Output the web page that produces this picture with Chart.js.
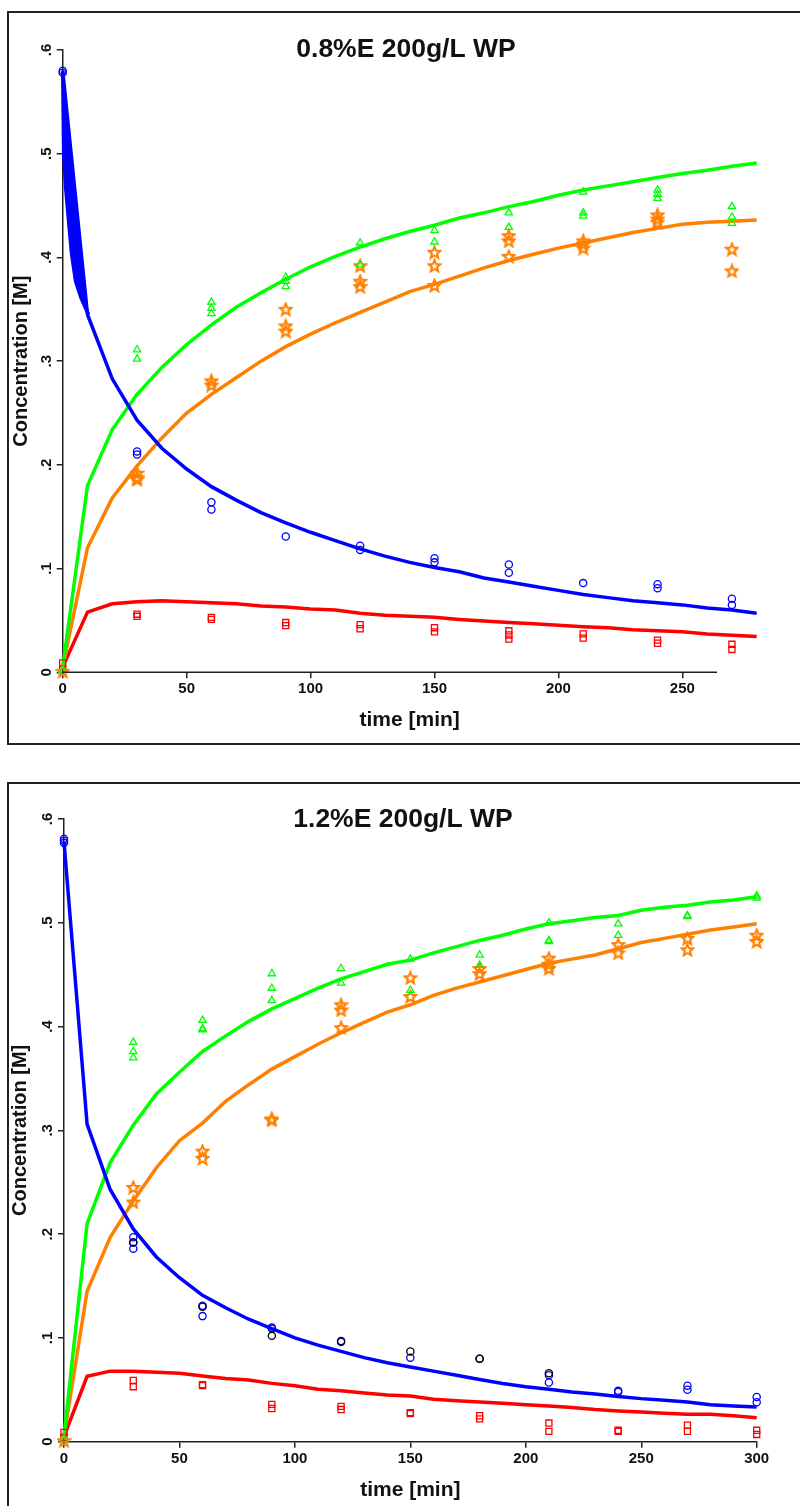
<!DOCTYPE html>
<html>
<head>
<meta charset="utf-8">
<script src="https://cdn.jsdelivr.net/npm/chart.js@4.4.0/dist/chart.umd.min.js"></script>
<style>
  body { margin: 0; background: #fff; width: 800px; height: 1506px; overflow: hidden; position: relative; }
  .frame { position: absolute; left: 7px; width: 900px; border: 2px solid #222; }
  #frame1 { top: 11px; height: 730px; }
  #frame2 { top: 782px; height: 800px; }
  canvas { position: absolute; left: 0; }
  #chart1 { top: 0; }
  #chart2 { top: 760px; }
</style>
</head>
<body>
<div class="frame" id="frame1"></div>
<div class="frame" id="frame2"></div>
<canvas id="chart1" width="800" height="760"></canvas>
<canvas id="chart2" width="800" height="746"></canvas>
<script>
// ---- data ----
const yTicks = [0, 0.1, 0.2, 0.3, 0.4, 0.5, 0.6];
const yTickLabels = ["0", ".1", ".2", ".3", ".4", ".5", ".6"];
const xTicksTop = [0, 50, 100, 150, 200, 250];
const xTicksBottom = [0, 50, 100, 150, 200, 250, 300];

// 0.8%E 200g/L WP  - model curves
const topFitT = [0, 10, 20, 30, 40, 50, 60, 70, 80, 90, 100, 110, 120, 130, 140, 150, 160, 170, 180, 190, 200, 210, 220, 230, 240, 250, 260, 270, 280];
const topBlueFit = [0.58, 0.345, 0.283, 0.243, 0.216, 0.196, 0.179, 0.166, 0.154, 0.144, 0.135, 0.127, 0.119, 0.112, 0.106, 0.101, 0.097, 0.091, 0.087, 0.083, 0.079, 0.075, 0.072, 0.069, 0.067, 0.065, 0.062, 0.060, 0.057];
const topGreenFit = [0.005, 0.18, 0.234, 0.268, 0.294, 0.316, 0.335, 0.352, 0.366, 0.379, 0.391, 0.401, 0.41, 0.418, 0.425, 0.431, 0.438, 0.443, 0.449, 0.454, 0.46, 0.465, 0.469, 0.473, 0.477, 0.481, 0.484, 0.488, 0.491];
const topOrangeFit = [0.005, 0.12, 0.168, 0.199, 0.226, 0.25, 0.268, 0.284, 0.30, 0.314, 0.326, 0.337, 0.347, 0.357, 0.367, 0.374, 0.382, 0.39, 0.397, 0.403, 0.409, 0.414, 0.419, 0.424, 0.428, 0.432, 0.434, 0.435, 0.436];
const topRedFit = [0.005, 0.058, 0.066, 0.068, 0.069, 0.068, 0.067, 0.066, 0.064, 0.063, 0.061, 0.06, 0.057, 0.055, 0.054, 0.053, 0.051, 0.0495, 0.048, 0.0467, 0.0453, 0.044, 0.043, 0.041, 0.040, 0.039, 0.037, 0.0357, 0.0344];
// blue band in the first 10 minutes
const topBandT = [0, 0.4, 1.2, 2.6, 3.6, 5.2, 7.4, 9.4, 10.5];
const topBandC = [0.58, 0.5, 0.467, 0.429, 0.403, 0.377, 0.361, 0.35, 0.345];

// 0.8%E 200g/L WP  - measurements
const topBlueT = [0, 0, 30, 30, 60, 60, 90, 120, 120, 150, 150, 180, 180, 210, 240, 240, 270, 270];
const topBlueC = [0.580, 0.578, 0.213, 0.210, 0.164, 0.157, 0.131, 0.122, 0.118, 0.110, 0.106, 0.104, 0.096, 0.086, 0.085, 0.081, 0.071, 0.065];
const topGreenT = [0, 30, 30, 60, 60, 60, 90, 90, 90, 120, 120, 150, 150, 180, 180, 210, 210, 210, 240, 240, 240, 270, 270, 270];
const topGreenC = [0.002, 0.311, 0.302, 0.357, 0.351, 0.346, 0.381, 0.377, 0.372, 0.414, 0.393, 0.426, 0.415, 0.443, 0.429, 0.463, 0.443, 0.440, 0.465, 0.461, 0.457, 0.449, 0.439, 0.433];
const topOrangeT = [0, 30, 30, 30, 60, 60, 90, 90, 90, 120, 120, 120, 150, 150, 150, 180, 180, 180, 210, 210, 210, 240, 240, 240, 270, 270];
const topOrangeC = [0.001, 0.192, 0.188, 0.186, 0.281, 0.277, 0.350, 0.334, 0.329, 0.392, 0.377, 0.372, 0.405, 0.392, 0.373, 0.421, 0.416, 0.401, 0.416, 0.413, 0.409, 0.441, 0.437, 0.434, 0.408, 0.387];
const topRedT = [0, 0, 30, 30, 60, 60, 90, 90, 120, 120, 150, 150, 180, 180, 180, 210, 210, 240, 240, 270, 270];
const topRedC = [0.009, 0.003, 0.056, 0.054, 0.053, 0.051, 0.048, 0.045, 0.046, 0.042, 0.043, 0.039, 0.040, 0.036, 0.032, 0.037, 0.033, 0.031, 0.028, 0.027, 0.022];

// 1.2%E 200g/L WP  - model curves
const botFitT = [0, 10, 20, 30, 40, 50, 60, 70, 80, 90, 100, 110, 120, 130, 140, 150, 160, 170, 180, 190, 200, 210, 220, 230, 240, 250, 260, 270, 280, 290, 300];
const botBlueFit = [0.578, 0.306, 0.243, 0.205, 0.178, 0.158, 0.141, 0.129, 0.118, 0.109, 0.1, 0.093, 0.087, 0.081, 0.076, 0.072, 0.068, 0.064, 0.060, 0.056, 0.053, 0.0505, 0.048, 0.046, 0.0435, 0.0415, 0.040, 0.0383, 0.0355, 0.0343, 0.0334];
const botGreenFit = [0.005, 0.21, 0.269, 0.305, 0.335, 0.356, 0.376, 0.391, 0.405, 0.417, 0.427, 0.437, 0.446, 0.453, 0.46, 0.464, 0.471, 0.477, 0.483, 0.488, 0.494, 0.499, 0.502, 0.505, 0.507, 0.512, 0.515, 0.517, 0.52, 0.522, 0.525];
const botOrangeFit = [0.005, 0.145, 0.197, 0.232, 0.264, 0.29, 0.307, 0.328, 0.344, 0.359, 0.371, 0.383, 0.394, 0.404, 0.414, 0.421, 0.43, 0.437, 0.443, 0.449, 0.455, 0.461, 0.465, 0.469, 0.475, 0.481, 0.485, 0.489, 0.493, 0.496, 0.499];
const botRedFit = [0.005, 0.063, 0.068, 0.068, 0.067, 0.066, 0.0633, 0.061, 0.0594, 0.0562, 0.054, 0.0505, 0.049, 0.047, 0.045, 0.044, 0.041, 0.0395, 0.0383, 0.037, 0.0357, 0.0344, 0.033, 0.031, 0.0296, 0.0286, 0.0275, 0.0264, 0.0264, 0.025, 0.0231];

// 1.2%E 200g/L WP  - measurements
const botBlueT = [0, 0, 0, 30, 30, 30, 60, 60, 90, 90, 120, 150, 180, 210, 210, 240, 240, 270, 270, 300, 300];
const botBlueC = [0.581, 0.579, 0.577, 0.197, 0.192, 0.186, 0.131, 0.121, 0.110, 0.109, 0.096, 0.081, 0.080, 0.064, 0.057, 0.049, 0.048, 0.054, 0.050, 0.043, 0.038];
const botBlackT = [30, 60, 90, 120, 150, 180, 210];
const botBlackC = [0.192, 0.130, 0.102, 0.097, 0.087, 0.080, 0.066];
const botGreenT = [0, 30, 30, 30, 60, 60, 60, 90, 90, 90, 120, 120, 150, 150, 180, 180, 210, 210, 210, 240, 240, 270, 270, 300, 300];
const botGreenC = [0.002, 0.385, 0.376, 0.370, 0.406, 0.398, 0.397, 0.451, 0.437, 0.425, 0.456, 0.442, 0.465, 0.435, 0.469, 0.459, 0.500, 0.483, 0.482, 0.499, 0.488, 0.507, 0.506, 0.526, 0.524];
const botOrangeT = [0, 30, 30, 60, 60, 90, 90, 120, 120, 120, 150, 150, 180, 180, 210, 210, 210, 240, 240, 270, 270, 300, 300];
const botOrangeC = [0.001, 0.245, 0.231, 0.280, 0.273, 0.311, 0.310, 0.421, 0.416, 0.399, 0.447, 0.429, 0.456, 0.451, 0.466, 0.460, 0.456, 0.479, 0.471, 0.485, 0.474, 0.488, 0.482];
const botRedT = [0, 0, 30, 30, 60, 60, 90, 90, 120, 120, 150, 150, 180, 180, 210, 210, 240, 240, 270, 270, 300, 300];
const botRedC = [0.009, 0.004, 0.059, 0.053, 0.055, 0.054, 0.036, 0.032, 0.034, 0.031, 0.028, 0.027, 0.025, 0.022, 0.018, 0.010, 0.011, 0.010, 0.016, 0.010, 0.011, 0.007];

// ---- styling ----
const FONT = "'Liberation Sans', Arial, sans-serif";
const AXIS = "#222";
const BLUE = "#0000ff", GREEN = "#00ff00", ORANGE = "#ff8000", RED = "#ff0000";

function pts(t, c) {
  return t.map((x, i) => ({ x: x, y: c[i] }));
}

// outline 5 point star used as marker
function makeStar(color) {
  const c = document.createElement("canvas");
  c.width = 15; c.height = 15;
  const ctx = c.getContext("2d");
  ctx.strokeStyle = color;
  ctx.lineWidth = 2.1;
  ctx.beginPath();
  for (let i = 0; i < 10; i++) {
    const r = i % 2 === 0 ? 6.2 : 2.7;
    const a = -Math.PI / 2 + i * Math.PI / 5;
    const px = 7.5 + r * Math.cos(a), py = 8 + r * Math.sin(a);
    if (i === 0) ctx.moveTo(px, py); else ctx.lineTo(px, py);
  }
  ctx.closePath();
  ctx.stroke();
  return c;
}
const starMarker = makeStar(ORANGE);

function fitLine(t, c, color) {
  return { data: pts(t, c), showLine: true, borderColor: color, borderWidth: 3.5, pointRadius: 0, fill: false, clip: false, order: 2 };
}
function marks(t, c, color, style, radius) {
  return { data: pts(t, c), showLine: false, pointStyle: style, pointRadius: radius, borderColor: color,
           backgroundColor: "rgba(0,0,0,0)", pointBorderWidth: 1.3, clip: false, order: 1 };
}

// panel heading, placed like the original graph
const panelTitle = {
  id: "panelTitle",
  afterDraw(chart, args, opts) {
    const ctx = chart.ctx;
    ctx.save();
    ctx.font = "bold 26.5px " + FONT;
    ctx.fillStyle = "#111";
    ctx.textAlign = "center";
    ctx.textBaseline = "alphabetic";
    ctx.fillText(opts.text, opts.x, opts.y);
    ctx.restore();
  }
};

// x axis line that stops before the end of the plot region (first panel)
const shortAxis = {
  id: "shortAxis",
  afterDraw(chart, args, opts) {
    if (opts.end == null) return;
    const x = chart.scales.x, ctx = chart.ctx;
    const y = Math.round(x.top) + 0.25;
    ctx.save();
    ctx.strokeStyle = AXIS;
    ctx.lineWidth = 1.5;
    ctx.beginPath();
    ctx.moveTo(x.getPixelForValue(0) - 0.75, y);
    ctx.lineTo(x.getPixelForValue(opts.end), y);
    ctx.stroke();
    ctx.restore();
  }
};

function makeOptions(cfg) {
  return {
    responsive: false,
    animation: false,
    layout: { padding: cfg.padding },
    plugins: {
      legend: { display: false },
      tooltip: { enabled: false },
      panelTitle: { text: cfg.title, x: cfg.titleX, y: cfg.titleY },
      shortAxis: { end: cfg.xLineEnd }
    },
    scales: {
      x: {
        type: "linear",
        min: 0,
        max: cfg.xMax,
        afterBuildTicks: s => { s.ticks = cfg.xTicks.map(v => ({ value: v })); },
        afterFit: s => { s.height = cfg.xHeight; },
        grid: { drawOnChartArea: false, color: AXIS, lineWidth: 1.5, tickLength: 6 },
        border: { display: cfg.xLineEnd == null, color: AXIS, width: 1.5 },
        ticks: { color: "#111", font: { family: FONT, size: 15, weight: "bold" }, padding: 2, maxRotation: 0 },
        title: { display: true, text: "time [min]", color: "#111",
                 font: { family: FONT, size: 21, weight: "bold" }, padding: { top: 0, bottom: cfg.xTitlePad } }
      },
      y: {
        type: "linear",
        min: 0,
        max: 0.6,
        afterBuildTicks: s => { s.ticks = yTicks.map(v => ({ value: v })); },
        afterFit: s => { s.width = cfg.yWidth; },
        grid: { drawOnChartArea: false, color: AXIS, lineWidth: 1.5, tickLength: 6 },
        border: { color: AXIS, width: 1.5 },
        ticks: { color: "#111", font: { family: FONT, size: 15, weight: "bold" }, padding: 4,
                 minRotation: 90, maxRotation: 90, crossAlign: "center",
                 callback: (v, i) => yTickLabels[i] },
        title: { display: true, text: "Concentration [M]", color: "#111",
                 font: { family: FONT, size: 20, weight: "bold" }, padding: { top: cfg.yTitlePad, bottom: 0 } }
      }
    }
  };
}

new Chart(document.getElementById("chart1"), {
  type: "scatter",
  data: {
    datasets: [
      marks(topBlueT, topBlueC, BLUE, "circle", 3.6),
      marks(topGreenT, topGreenC, GREEN, "triangle", 4.2),
      marks(topOrangeT, topOrangeC, ORANGE, starMarker, 6),
      marks(topRedT, topRedC, RED, "rect", 4.3),
      { data: pts(topBandT, topBandC), showLine: true, borderColor: BLUE, backgroundColor: BLUE,
        borderWidth: 3.5, pointRadius: 0, fill: "shape", clip: false, order: 2 },
      fitLine(topFitT, topBlueFit, BLUE),
      fitLine(topFitT, topGreenFit, GREEN),
      fitLine(topFitT, topOrangeFit, ORANGE),
      fitLine(topFitT, topRedFit, RED)
    ]
  },
  options: makeOptions({
    title: "0.8%E 200g/L WP", titleX: 406, titleY: 57,
    padding: { left: 8, right: 43.3, top: 50, bottom: 0 },
    xMax: 280, xLineEnd: 264, xTicks: xTicksTop, xHeight: 87.7, xTitlePad: 27.4,
    yWidth: 54.7, yTitlePad: 1.5
  }),
  plugins: [panelTitle, shortAxis]
});

new Chart(document.getElementById("chart2"), {
  type: "scatter",
  data: {
    datasets: [
      marks(botBlackT, botBlackC, "#000", "circle", 3.6),
      marks(botBlueT, botBlueC, BLUE, "circle", 3.6),
      marks(botGreenT, botGreenC, GREEN, "triangle", 4.2),
      marks(botOrangeT, botOrangeC, ORANGE, starMarker, 6),
      marks(botRedT, botRedC, RED, "rect", 4.3),
      fitLine(botFitT, botBlueFit, BLUE),
      fitLine(botFitT, botGreenFit, GREEN),
      fitLine(botFitT, botOrangeFit, ORANGE),
      fitLine(botFitT, botRedFit, RED)
    ]
  },
  options: makeOptions({
    title: "1.2%E 200g/L WP", titleX: 403, titleY: 66.7,
    padding: { left: 8, right: 43.3, top: 59, bottom: 0 },
    xMax: 300, xTicks: xTicksBottom, xHeight: 64.3, xTitlePad: 3.4,
    yWidth: 56, yTitlePad: 0
  }),
  plugins: [panelTitle, shortAxis]
});
</script>
</body>
</html>
